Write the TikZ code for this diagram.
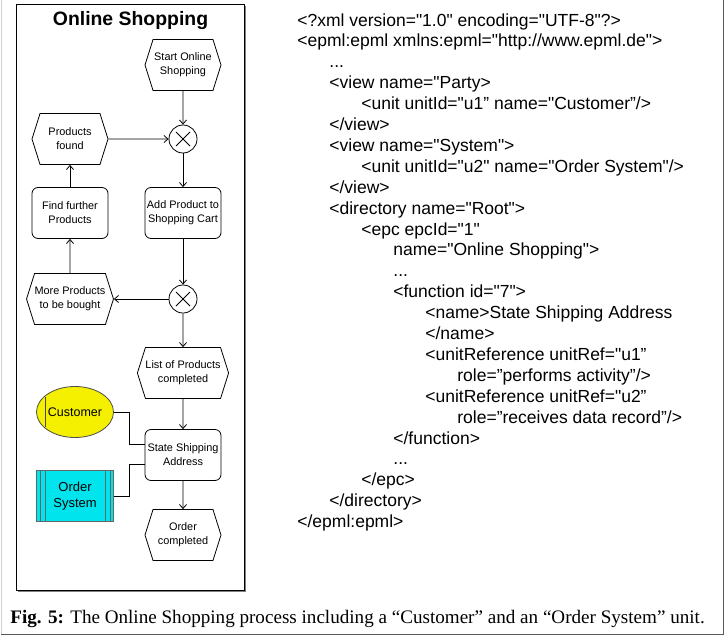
\documentclass[tikz,border=0pt]{standalone}
\usepackage{fontspec}
\setmainfont{Liberation Serif}
\setsansfont{Liberation Sans}
\newfontfamily\xmlfont[Ligatures=TeXOff]{Liberation Sans}
\usetikzlibrary{shapes.symbols,shapes.geometric,arrows.meta}
\definecolor{orgyellow}{RGB}{245,240,0}
\definecolor{syscyan}{RGB}{0,228,238}
\tikzset{
  epcfont/.style={font=\sffamily\fontsize{10.9}{14}\selectfont},
  event/.style={signal, signal to=east and west, signal pointer angle=145, draw, minimum width=76pt, minimum height=51pt, inner sep=0pt, align=center, epcfont},
  func/.style={rectangle, rounded corners=6pt, draw, minimum width=76pt, minimum height=51pt, inner sep=0pt, align=center, epcfont},
  xor/.style={circle, draw, minimum size=28pt, inner sep=0pt,
    path picture={\draw ([shift={(-7pt,-7pt)}]path picture bounding box.center) -- ([shift={(7pt,7pt)}]path picture bounding box.center)
      ([shift={(-7pt,7pt)}]path picture bounding box.center) -- ([shift={(7pt,-7pt)}]path picture bounding box.center);}},
  xmlline/.style={anchor=base west, inner sep=0pt, font=\xmlfont\fontsize{17.5}{20}\selectfont},
}
\begin{document}
\begin{tikzpicture}[x=1pt,y=-1pt,line width=0.8pt,>={Straight Barb[length=4pt,width=7pt]}]
\useasboundingbox (0,0) rectangle (725,637);
% frames
\draw[gray!35] (1,0) -- (1,634);
\draw[gray!70!black] (723,0) -- (723,634) -- (1,634);
\draw[gray, line width=1.6pt] (18,591.5) -- (245.5,591.5) -- (245.5,6);
\draw (16,4) rectangle (244,590);
\node[font=\sffamily\bfseries\fontsize{19.4}{22}\selectfont] (title) at (130.5,21) {Online Shopping};
% EPC
\node[event] (start) at (183,65) {Start Online\\Shopping};
\node[xor] (xorA) at (183,139) {};
\node[event] (found) at (70,139) {Products\\found};
\node[func] (find) at (70,213) {Find further\\Products};
\node[func] (add) at (183,213) {Add Product to\\Shopping Cart};
\node[xor] (xorB) at (183,299) {};
\node[event] (more) at (70,299) {More Products\\to be bought};
\node[event] (list) at (183,373) {List of Products\\completed};
\node[func] (ship) at (183,455) {State Shipping\\Address};
\node[event] (done) at (183,535) {Order\\completed};
\node[ellipse, draw=black!70, fill=orgyellow, minimum width=77pt, minimum height=51pt, inner sep=0pt, font=\sffamily\fontsize{12.5}{15}\selectfont] (cust) at (75,412) {Customer};
\draw[black!70] (45,397) -- (45,427);
\node[rectangle, draw=black!60, fill=syscyan, minimum width=77pt, minimum height=51pt, inner sep=0pt, align=center, font=\sffamily\fontsize{13}{16}\selectfont] (osys) at (75,496) {Order\\System};
\foreach \d in {4,9} {
  \draw[black!60, line width=0.5pt] ([xshift=\d pt]osys.north west) -- ([xshift=\d pt]osys.south west);
  \draw[black!60, line width=0.5pt] ([xshift=-\d pt]osys.north east) -- ([xshift=-\d pt]osys.south east);
}
\foreach \a/\b in {start/xorA, found/xorA, xorA/add, add/xorB, xorB/more, more/find, find/found, xorB/list, list/ship, ship/done}
  \draw[->] (\a) -- (\b);
\draw (cust.east) -- ++(15pt,0) |- ([yshift=11pt]ship.west);
\draw (osys.east) -- ++(15pt,0) |- ([yshift=-9pt]ship.west);
% EPML listing
\foreach \lvl/\txt [count=\i from 0] in {
  0/{<?xml version="1.0" encoding="UTF-8"?>},
  0/{<epml:epml xmlns:epml="http://www.epml.de">},
  1/{...},
  1/{<view name="Party>},
  2/{<unit unitId="u1” name="Customer”/>},
  1/{</view>},
  1/{<view name="System">},
  2/{<unit unitId="u2" name="Order System"/>},
  1/{</view>},
  1/{<directory name="Root">},
  2/{<epc epcId="1"},
  3/{name="Online Shopping">},
  3/{...},
  3/{<function id="7">},
  4/{<name>State Shipping Address},
  4/{</name>},
  4/{<unitReference unitRef="u1”},
  5/{role=”performs activity”/>},
  4/{<unitReference unitRef="u2”},
  5/{role=”receives data record”/>},
  3/{</function>},
  3/{...},
  2/{</epc>},
  1/{</directory>},
  0/{</epml:epml>}}
  \node[xmlline] (xml\i) at (297+32*\lvl, 26+20.9*\i) {\txt};
% caption
\node[anchor=base west, inner sep=0pt, font=\fontsize{19.1}{21}\selectfont] (caption) at (10,623.5) {\textbf{Fig. 5:} The Online Shopping process including a “Customer” and an “Order System” unit.};
\end{tikzpicture}
\end{document}
